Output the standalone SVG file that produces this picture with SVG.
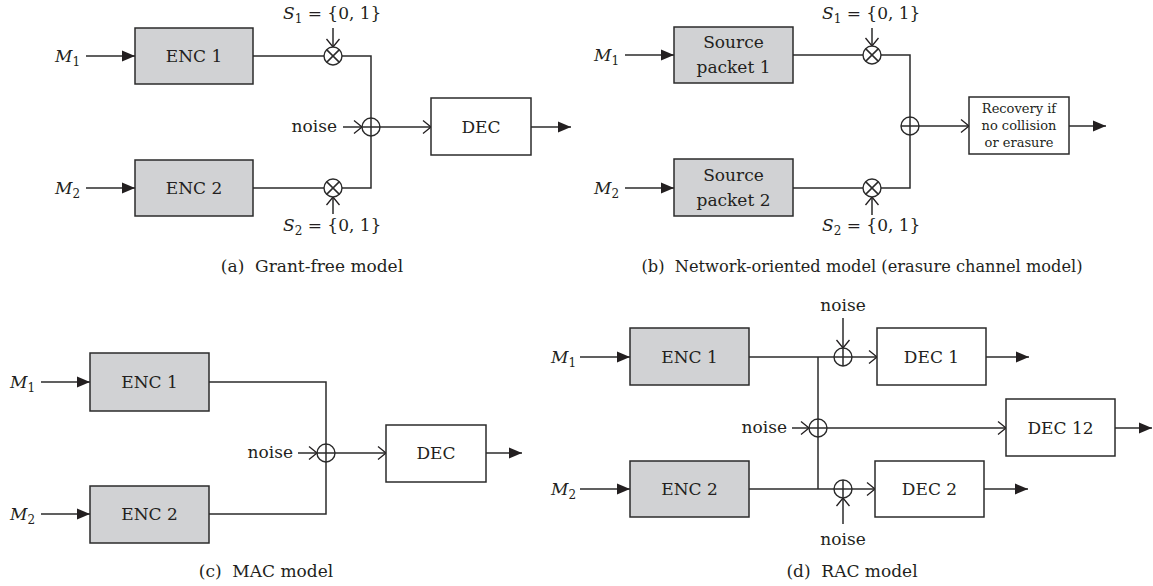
<svg xmlns="http://www.w3.org/2000/svg" width="1153" height="586" viewBox="0 0 1153 586">
<style>
.ln{fill:none;stroke:#2b2b2b;stroke-width:1.5}
.enc{fill:#d1d2d4;stroke:#2b2b2b;stroke-width:1.5}
.dec{fill:#fff;stroke:#2b2b2b;stroke-width:1.5}
.op{fill:#fff;stroke:#2b2b2b;stroke-width:1.4}
.t{font-family:"DejaVu Serif",serif;font-size:17px;fill:#231f20}
.c{text-anchor:middle}
.r{text-anchor:end}
.sm{font-size:13px}
.it{font-style:italic}
.sub{font-style:normal;font-size:12px}
.fa{marker-end:url(#fa)}
.oa{marker-end:url(#oa)}
</style>
<defs>
<marker id="fa" markerWidth="14" markerHeight="12" refX="13" refY="6" orient="auto" markerUnits="userSpaceOnUse" overflow="visible"><path d="M0,0.5 L13,6 L0,11.5 z" fill="#231f20"/></marker>
<marker id="oa" markerWidth="10" markerHeight="14" refX="9" refY="7" orient="auto" markerUnits="userSpaceOnUse" overflow="visible"><path d="M1,0.5 L9,7 L1,13.5" fill="none" stroke="#231f20" stroke-width="1.3"/></marker>
<g id="mul"><circle class="op" r="9"/><path class="ln" d="M-6.4,-6.4 L6.4,6.4 M-6.4,6.4 L6.4,-6.4" stroke-width="1.3"/></g>
<g id="add"><circle class="op" r="9"/><path class="ln" d="M-9,0 H9 M0,-9 V9" stroke-width="1.3"/></g>
</defs>

<!-- connectors -->
<g id="connectors">
<!-- (a) -->
<line class="ln fa" x1="86" y1="56" x2="135" y2="56"/>
<line class="ln fa" x1="86" y1="188" x2="135" y2="188"/>
<path class="ln" d="M253,56 H371 V188 H253"/>
<line class="ln oa" x1="371" y1="127" x2="431" y2="127"/>
<line class="ln fa" x1="531" y1="127" x2="571" y2="127"/>
<line class="ln oa" x1="343" y1="127" x2="362" y2="127"/>
<line class="ln oa" x1="333" y1="28" x2="333" y2="47"/>
<line class="ln oa" x1="333" y1="214" x2="333" y2="197"/>
<!-- (b) -->
<line class="ln fa" x1="625" y1="55" x2="674" y2="55"/>
<line class="ln fa" x1="625" y1="188" x2="674" y2="188"/>
<path class="ln" d="M793,55 H910 V188 H793"/>
<line class="ln oa" x1="910" y1="126" x2="969" y2="126"/>
<line class="ln fa" x1="1069" y1="126" x2="1106" y2="126"/>
<line class="ln oa" x1="872" y1="28" x2="872" y2="46"/>
<line class="ln oa" x1="872" y1="215" x2="872" y2="197"/>
<!-- (c) -->
<line class="ln fa" x1="41" y1="382" x2="90" y2="382"/>
<line class="ln fa" x1="41" y1="514" x2="90" y2="514"/>
<path class="ln" d="M209,382 H326 V514 H209"/>
<line class="ln oa" x1="326" y1="453" x2="386" y2="453"/>
<line class="ln fa" x1="486" y1="453" x2="522" y2="453"/>
<line class="ln oa" x1="298" y1="453" x2="317" y2="453"/>
<!-- (d) -->
<line class="ln fa" x1="580" y1="357" x2="630" y2="357"/>
<line class="ln fa" x1="580" y1="489" x2="630" y2="489"/>
<line class="ln oa" x1="749" y1="357" x2="877" y2="357" stroke-width="1.8"/>
<line class="ln oa" x1="749" y1="489" x2="875" y2="489" stroke-width="1.8"/>
<line class="ln" x1="818" y1="357" x2="818" y2="489"/>
<line class="ln oa" x1="818" y1="428" x2="1006" y2="428"/>
<line class="ln oa" x1="792" y1="428" x2="809" y2="428"/>
<line class="ln oa" x1="843" y1="318" x2="843" y2="348"/>
<line class="ln oa" x1="843" y1="524" x2="843" y2="498"/>
<line class="ln fa" x1="986" y1="357" x2="1029" y2="357"/>
<line class="ln fa" x1="1115" y1="428" x2="1152" y2="428"/>
<line class="ln fa" x1="984" y1="489" x2="1028" y2="489"/>
</g>

<!-- (a) nodes -->
<g id="a-enc1"><rect class="enc" x="135" y="28" width="118" height="56"/><text class="t c" x="194" y="62">ENC 1</text></g>
<g id="a-enc2"><rect class="enc" x="135" y="160" width="118" height="56"/><text class="t c" x="194" y="194">ENC 2</text></g>
<g id="a-mul1"><use href="#mul" x="333" y="56"/></g>
<g id="a-mul2"><use href="#mul" x="333" y="188"/></g>
<g id="a-add"><use href="#add" x="371" y="127"/></g>
<g id="a-dec"><rect class="dec" x="431" y="98" width="100" height="57"/><text class="t c" x="481" y="133">DEC</text></g>
<g id="a-labels">
<text class="t it" x="55" y="62">M<tspan class="sub" dy="4">1</tspan></text>
<text class="t it" x="55" y="194">M<tspan class="sub" dy="4">2</tspan></text>
<text class="t r" x="337" y="132">noise</text>
<text class="t" x="283" y="19"><tspan class="it">S</tspan><tspan class="sub" dy="4">1</tspan><tspan dy="-4"> = {0, 1}</tspan></text>
<text class="t" x="283" y="231"><tspan class="it">S</tspan><tspan class="sub" dy="4">2</tspan><tspan dy="-4"> = {0, 1}</tspan></text>
<text class="t c" x="312" y="272" xml:space="preserve">(a)  Grant-free model</text>
</g>

<!-- (b) nodes -->
<g id="b-src1"><rect class="enc" x="674" y="27" width="119" height="56"/><text class="t c" x="733.5" y="48">Source</text><text class="t c" x="733.5" y="73">packet 1</text></g>
<g id="b-src2"><rect class="enc" x="674" y="159" width="119" height="57"/><text class="t c" x="733.5" y="181">Source</text><text class="t c" x="733.5" y="206">packet 2</text></g>
<g id="b-mul1"><use href="#mul" x="872" y="55"/></g>
<g id="b-mul2"><use href="#mul" x="872" y="188"/></g>
<g id="b-add"><use href="#add" x="910" y="126"/></g>
<g id="b-rec"><rect class="dec" x="969" y="97" width="100" height="57"/>
<text class="t c sm" x="1019" y="113">Recovery if</text>
<text class="t c sm" x="1019" y="130">no collision</text>
<text class="t c sm" x="1019" y="147">or erasure</text></g>
<g id="b-labels">
<text class="t it" x="594" y="61">M<tspan class="sub" dy="4">1</tspan></text>
<text class="t it" x="594" y="194">M<tspan class="sub" dy="4">2</tspan></text>
<text class="t" x="822" y="19"><tspan class="it">S</tspan><tspan class="sub" dy="4">1</tspan><tspan dy="-4"> = {0, 1}</tspan></text>
<text class="t" x="822" y="231"><tspan class="it">S</tspan><tspan class="sub" dy="4">2</tspan><tspan dy="-4"> = {0, 1}</tspan></text>
<text class="t c" x="862" y="272" xml:space="preserve" textLength="441" lengthAdjust="spacingAndGlyphs">(b)  Network-oriented model (erasure channel model)</text>
</g>

<!-- (c) nodes -->
<g id="c-enc1"><rect class="enc" x="90" y="353" width="119" height="58"/><text class="t c" x="149.5" y="388">ENC 1</text></g>
<g id="c-enc2"><rect class="enc" x="90" y="486" width="119" height="57"/><text class="t c" x="149.5" y="520">ENC 2</text></g>
<g id="c-add"><use href="#add" x="326" y="453"/></g>
<g id="c-dec"><rect class="dec" x="386" y="425" width="100" height="57"/><text class="t c" x="436" y="459">DEC</text></g>
<g id="c-labels">
<text class="t it" x="10" y="388">M<tspan class="sub" dy="4">1</tspan></text>
<text class="t it" x="10" y="520">M<tspan class="sub" dy="4">2</tspan></text>
<text class="t r" x="293" y="458">noise</text>
<text class="t c" x="266" y="577" xml:space="preserve">(c)  MAC model</text>
</g>

<!-- (d) nodes -->
<g id="d-enc1"><rect class="enc" x="630" y="328" width="119" height="57"/><text class="t c" x="689.5" y="363">ENC 1</text></g>
<g id="d-enc2"><rect class="enc" x="630" y="461" width="119" height="56"/><text class="t c" x="689.5" y="495">ENC 2</text></g>
<g id="d-add1"><use href="#add" x="843" y="357"/></g>
<g id="d-add12"><use href="#add" x="818" y="428"/></g>
<g id="d-add2"><use href="#add" x="843" y="489"/></g>
<g id="d-dec1"><rect class="dec" x="877" y="328" width="109" height="57"/><text class="t c" x="931.5" y="363">DEC 1</text></g>
<g id="d-dec12"><rect class="dec" x="1006" y="399" width="109" height="57"/><text class="t c" x="1060.5" y="434">DEC 12</text></g>
<g id="d-dec2"><rect class="dec" x="875" y="461" width="109" height="56"/><text class="t c" x="929.5" y="495">DEC 2</text></g>
<g id="d-labels">
<text class="t it" x="551" y="363">M<tspan class="sub" dy="4">1</tspan></text>
<text class="t it" x="551" y="495">M<tspan class="sub" dy="4">2</tspan></text>
<text class="t r" x="787" y="433">noise</text>
<text class="t c" x="843" y="311">noise</text>
<text class="t c" x="843" y="545">noise</text>
<text class="t c" x="852" y="577" xml:space="preserve">(d)  RAC model</text>
</g>
</svg>
